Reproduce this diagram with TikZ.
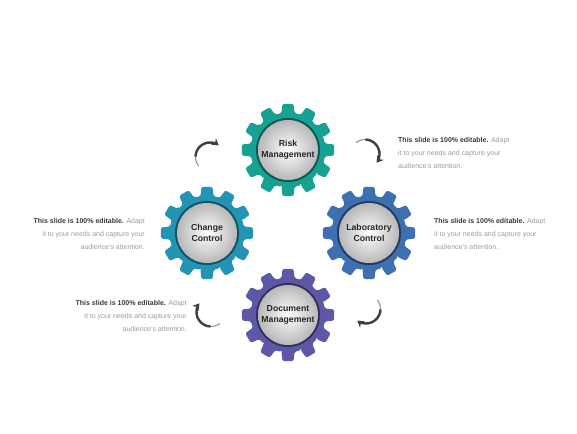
\documentclass[tikz,border=0pt]{standalone}
\usepackage{fontspec}
\setmainfont{Liberation Sans}
\usetikzlibrary{arrows.meta}

\definecolor{riskteal}{HTML}{17A193}
\definecolor{changeblue}{HTML}{2394B4}
\definecolor{labblue}{HTML}{3D6FB1}
\definecolor{docpurple}{HTML}{5C58A7}
\definecolor{notedark}{HTML}{3A3A3A}
\definecolor{notegray}{HTML}{9C9C9C}
\definecolor{arrowgray}{HTML}{3F3F3F}

\tikzset{
  gearlabel/.style={align=center,inner sep=0pt,text=black!85,
    font=\fontsize{8.7}{11.2}\selectfont\bfseries},
  note/.style={inner sep=0pt,text=notegray,font=\fontsize{7}{13}\selectfont},
  cyclearrow/.style={line width=2.4pt,draw=arrowgray,-{Stealth[length=6.5pt,width=8pt]}},
}

% gear with 12 teeth: centre, colour
\newcommand{\gear}[2]{%
  \begin{scope}[shift={(#1)}]
    \fill[#2,rounded corners=1.5pt] (-20:37.5)
      \foreach \a in {0,30,...,330}{ -- (\a-10:37.5) -- (\a-6.8:46.5) -- (\a+6.8:46.5) -- (\a+10:37.5) -- (\a+20:37.5)} -- cycle;
    \fill[#2!55!black] (0,0) circle (32);
    \shade[inner color=white,outer color=black!28] (0,0) circle (30);
  \end{scope}}

\begin{document}
\begin{tikzpicture}[x=1pt,y=1pt]
\fill[white] (0,0) rectangle (577,433);
\useasboundingbox (0,0) rectangle (577,433);

% gears
\gear{288,283}{riskteal}
\gear{207,200}{changeblue}
\gear{369,200}{labblue}
\gear{288,118}{docpurple}

\node[gearlabel] (risk) at (288,283) {Risk\\Management};
\node[gearlabel] (change) at (207,200) {Change\\Control};
\node[gearlabel] (lab) at (369,200) {Laboratory\\Control};
\node[gearlabel] (doc) at (288,118) {Document\\Management};

% notes
\node[note,anchor=west,align=left] (risknote) at (398,280)
  {\textcolor{notedark}{\bfseries This slide is 100\% editable.} Adapt\\it to your needs and capture your\\audience's attention.};
\node[note,anchor=east,align=right] (changenote) at (145,199)
  {\textcolor{notedark}{\bfseries This slide is 100\% editable.} Adapt\\it to your needs and capture your\\audience's attention.};
\node[note,anchor=west,align=left] (labnote) at (434,199)
  {\textcolor{notedark}{\bfseries This slide is 100\% editable.} Adapt\\it to your needs and capture your\\audience's attention.};
\node[note,anchor=east,align=right] (docnote) at (187,117)
  {\textcolor{notedark}{\bfseries This slide is 100\% editable.} Adapt\\it to your needs and capture your\\audience's attention.};

% turning arrows
\coordinate (turn1) at (210,276);
\coordinate (turn2) at (365,279);
\coordinate (turn3) at (366,124);
\coordinate (turn4) at (211,121);
\foreach \t/\s in {turn1/218,turn2/128,turn3/38,turn4/-52}{
  \draw[line width=1.1pt,draw=arrowgray!55] (\t) ++(\s:14.5) arc[start angle=\s,delta angle=-45,radius=14.5];
  \draw[cyclearrow] (\t) ++(\s-40:14.5) arc[start angle=\s-40,delta angle=-125,radius=14.5];
}
\end{tikzpicture}
\end{document}
